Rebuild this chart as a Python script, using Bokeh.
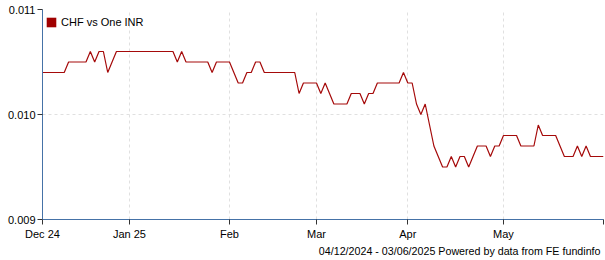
import pandas as pd
from bokeh.plotting import figure
from bokeh.models import (FixedTicker, Legend, LegendItem, ColumnDataSource, Title)
from bokeh.embed import file_html
from bokeh.resources import INLINE

# ---- data ----
start_date = "2024-12-04"
end_date = "2025-06-03"
dates = pd.bdate_range(start_date, end_date)

rates = [
    0.0104, 0.0104, 0.0104, 0.0104, 0.0104, 0.0104,
    0.0105, 0.0105, 0.0105, 0.0105, 0.0105,
    0.0106, 0.0105, 0.0106, 0.0106, 0.0104, 0.0105,
    0.0106, 0.0106, 0.0106, 0.0106, 0.0106, 0.0106, 0.0106,
    0.0106, 0.0106, 0.0106, 0.0106, 0.0106, 0.0106, 0.0106,
    0.0105, 0.0106,
    0.0105, 0.0105, 0.0105, 0.0105, 0.0105, 0.0105,
    0.0104,
    0.0105, 0.0105, 0.0105, 0.0105,
    0.0104, 0.0103, 0.0103, 0.0104, 0.0104, 0.0105, 0.0105,
    0.0104, 0.0104, 0.0104, 0.0104, 0.0104, 0.0104, 0.0104, 0.0104,
    0.0102,
    0.0103, 0.0103, 0.0103, 0.0103,
    0.0102, 0.0103, 0.0102,
    0.0101, 0.0101, 0.0101, 0.0101,
    0.0102, 0.0102, 0.0102,
    0.0101, 0.0102, 0.0102,
    0.0103, 0.0103, 0.0103, 0.0103, 0.0103, 0.0103,
    0.0104, 0.0103, 0.0103, 0.0101, 0.0100, 0.0101, 0.0099, 0.0097,
    0.0096, 0.0095, 0.0095, 0.0096, 0.0095, 0.0096, 0.0096, 0.0095, 0.0096,
    0.0097, 0.0097, 0.0097,
    0.0096, 0.0097, 0.0097,
    0.0098, 0.0098, 0.0098, 0.0098,
    0.0097, 0.0097, 0.0097, 0.0097,
    0.0099,
    0.0098, 0.0098, 0.0098, 0.0098,
    0.0097,
    0.0096, 0.0096, 0.0096,
    0.0097, 0.0096, 0.0097,
    0.0096, 0.0096, 0.0096, 0.0096,
]

series_name = "CHF vs One INR"
month_labels = ["Dec 24", "Jan 25", "Feb", "Mar", "Apr", "May"]
y_ticks = [0.009, 0.010, 0.011]
y_tick_labels = ["0.009", "0.010", "0.011"]
footer = "04/12/2024 - 03/06/2025 Powered by data from FE fundinfo"

# ---- derived ----
idx = list(range(len(dates)))
month_starts = []
seen = set()
for i, d in enumerate(dates):
    key = (d.year, d.month)
    if key not in seen:
        seen.add(key)
        month_starts.append(i)
month_starts = month_starts[:len(month_labels)]
x_ticks = month_starts + [idx[-1]]
x_overrides = {t: lab for t, lab in zip(month_starts, month_labels)}
x_overrides[idx[-1]] = ""

FONT = "Liberation Sans"
LINE_COLOR = "#A50A0A"
AXIS_COLOR = "#4572A7"

p = figure(width=605, height=260, output_backend="svg", toolbar_location=None,
           x_range=(idx[0], idx[-1]), y_range=(y_ticks[0], y_ticks[-1]),
           min_border_left=42, min_border_right=2, min_border_top=9,
           min_border_bottom=41)
p.outline_line_color = None
p.background_fill_color = "white"
p.border_fill_color = "white"

src = ColumnDataSource(dict(x=idx, y=rates))
p.line("x", "y", source=src, line_color=LINE_COLOR, line_width=1.2)

# legend proxy: zero-size rect on the first data point (invisible in plot)
proxy_src = ColumnDataSource(dict(x=idx[:1], y=rates[:1]))
proxy = p.rect("x", "y", width=0, height=0, source=proxy_src,
               fill_color="#A00000", line_color=None)
legend = Legend(items=[LegendItem(label=series_name, renderers=[proxy])],
                location=(3, 191), glyph_width=12, glyph_height=12,
                label_height=12, padding=2, margin=0, spacing=0,
                label_standoff=4, label_text_font=FONT,
                label_text_font_size="11px", label_text_color="#000000",
                border_line_color=None, background_fill_alpha=0)
p.add_layout(legend)

# axes
for ax in (p.xaxis[0], p.yaxis[0]):
    ax.axis_line_color = AXIS_COLOR
    ax.axis_line_width = 1
    ax.major_tick_line_color = "#333333"
    ax.major_tick_in = 0
    ax.major_tick_out = 5
    ax.minor_tick_line_color = None
    ax.major_label_text_font = FONT
    ax.major_label_text_font_size = "11px"
    ax.major_label_text_color = "#000000"

p.xaxis.ticker = FixedTicker(ticks=x_ticks)
p.xaxis.major_label_overrides = x_overrides
p.xaxis.major_label_standoff = 3
p.yaxis.ticker = FixedTicker(ticks=y_ticks)
p.yaxis.major_label_overrides = {t: l for t, l in zip(y_ticks, y_tick_labels)}
p.yaxis.major_label_standoff = 2

p.xgrid.ticker = FixedTicker(ticks=x_ticks)
p.ygrid.ticker = FixedTicker(ticks=y_ticks)
for g in (p.xgrid[0], p.ygrid[0]):
    g.grid_line_color = "#e0e0e0"
    g.grid_line_dash = "3 3"
    g.grid_line_width = 1

t = Title(text=footer, align="right", text_font=FONT, text_font_size="10.7px",
          text_font_style="normal", text_color="#000000", standoff=0, offset=3)
p.add_layout(t, "below")

open("out.html", "w").write(file_html(p, INLINE))
